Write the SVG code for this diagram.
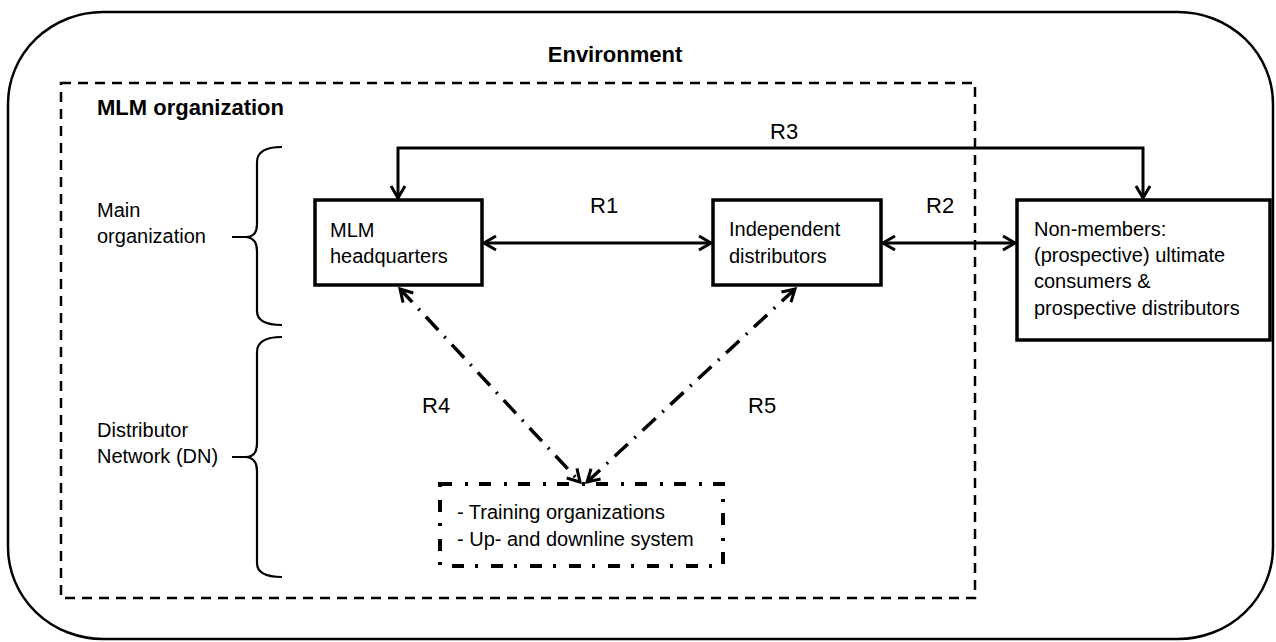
<svg xmlns="http://www.w3.org/2000/svg" width="1276" height="642" viewBox="0 0 1276 642">
<style>
  text { font-family: "Liberation Sans", Arial, sans-serif; fill: #000; }
  .title { font-size: 22px; font-weight: bold; }
  .lbl { font-size: 20px; }
  .rel { font-size: 22px; }
  .box { fill: #fff; stroke: #000; stroke-width: 3.5; }
  .conn { fill: none; stroke: #000; stroke-width: 3; }
  .dd { fill: none; stroke: #000; stroke-width: 3.5; stroke-dasharray: 18 9 2 9; }
  .brace { fill: none; stroke: #000; stroke-width: 2.2; }
</style>
<defs>
  <marker id="arr" markerUnits="userSpaceOnUse" viewBox="0 0 16 16" refX="13" refY="8" markerWidth="16" markerHeight="16" orient="auto-start-reverse" overflow="visible">
    <path d="M1,1 L13,8 L1,15" fill="none" stroke="#000" stroke-width="3" stroke-linejoin="miter"/>
  </marker>
</defs>
<rect width="1276" height="642" fill="#fff"/>

<g id="environment">
  <rect x="8" y="12" width="1265" height="627" rx="95" ry="92" fill="none" stroke="#000" stroke-width="2.5"/>
  <text class="title" x="615" y="62" text-anchor="middle">Environment</text>
</g>

<g id="mlm-organization">
  <rect x="61" y="83" width="914" height="515" fill="none" stroke="#000" stroke-width="2.5" stroke-dasharray="10 7"/>
  <text class="title" x="97" y="115">MLM organization</text>
</g>

<g id="main-organization">
  <path class="brace" d="M282,147 Q257,147 257,162 L257,224 Q257,237 246,237 L232,237 M246,237 Q257,238 257,251 L257,311 Q257,325 282,325"/>
  <text class="lbl" x="97" y="217">Main</text>
  <text class="lbl" x="97" y="243">organization</text>
</g>

<g id="distributor-network">
  <path class="brace" d="M282,337 Q257,337 257,352 L257,443 Q257,457 246,457 L232,457 M246,457 Q257,458 257,471 L257,563 Q257,577 282,577"/>
  <text class="lbl" x="97" y="437">Distributor</text>
  <text class="lbl" x="97" y="463">Network (DN)</text>
</g>

<g id="headquarters">
  <rect class="box" x="315" y="200" width="167" height="85"/>
  <text class="lbl" x="330" y="237">MLM</text>
  <text class="lbl" x="330" y="263">headquarters</text>
</g>

<g id="independent-distributors">
  <rect class="box" x="713" y="200" width="168" height="85"/>
  <text class="lbl" x="729" y="236">Independent</text>
  <text class="lbl" x="729" y="263">distributors</text>
</g>

<g id="non-members">
  <rect class="box" x="1017" y="200" width="253" height="140"/>
  <text class="lbl" x="1034" y="236">Non-members:</text>
  <text class="lbl" x="1034" y="262">(prospective) ultimate</text>
  <text class="lbl" x="1034" y="288">consumers &amp;</text>
  <text class="lbl" x="1034" y="315">prospective distributors</text>
</g>

<g id="training">
  <rect x="440" y="484" width="283" height="82" fill="#fff" stroke="#000" stroke-width="4" stroke-dasharray="12 13 3 11"/>
  <text class="lbl" x="457" y="519">- Training organizations</text>
  <text class="lbl" x="457" y="546">- Up- and downline system</text>
</g>

<g id="connectors">
  <path class="conn" d="M398,198 L398,148 L1143,148 L1143,198" marker-start="url(#arr)" marker-end="url(#arr)"/>
  <line class="conn" x1="484" y1="243" x2="711" y2="243" marker-start="url(#arr)" marker-end="url(#arr)"/>
  <line class="conn" x1="883" y1="243" x2="1015" y2="243" marker-start="url(#arr)" marker-end="url(#arr)"/>
  <line class="dd" x1="400" y1="289" x2="580" y2="482" marker-start="url(#arr)" marker-end="url(#arr)"/>
  <line class="dd" x1="795" y1="289" x2="587" y2="482" marker-start="url(#arr)" marker-end="url(#arr)"/>
  <text class="rel" x="770" y="139">R3</text>
  <text class="rel" x="590" y="213">R1</text>
  <text class="rel" x="926" y="213">R2</text>
  <text class="rel" x="422" y="413">R4</text>
  <text class="rel" x="748" y="413">R5</text>
</g>
</svg>
